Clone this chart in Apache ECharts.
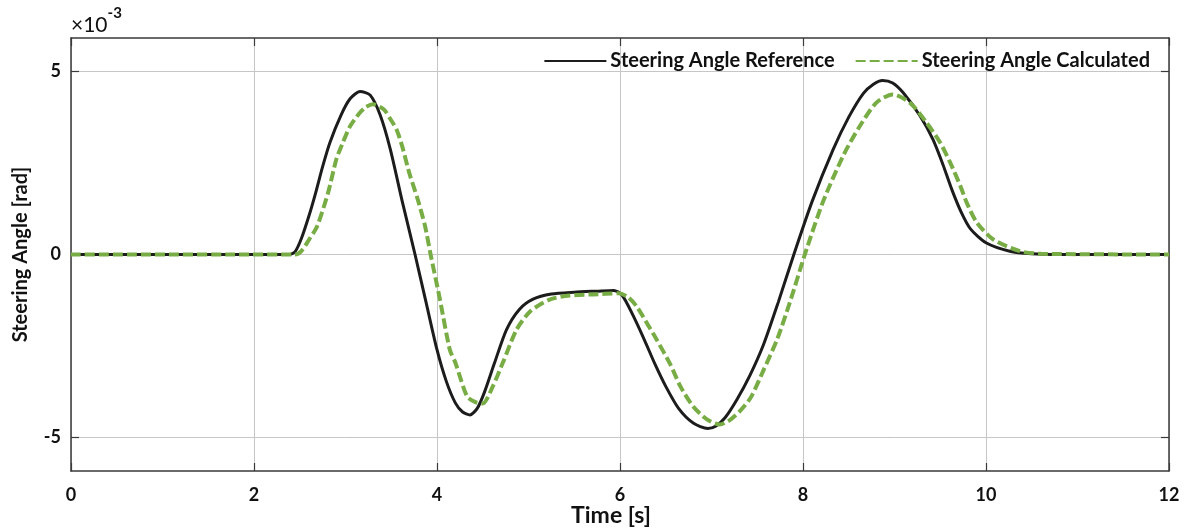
<!DOCTYPE html>
<html>
<head>
<meta charset="utf-8">
<script src="https://cdn.jsdelivr.net/npm/echarts@6/dist/echarts.min.js"></script>
<style>
  html, body { margin: 0; padding: 0; background: #fff; }
  #chart { width: 1189px; height: 529px; }
</style>
</head>
<body>
<div id="chart"></div>
<script>
// Steering angle in units of 1e-3 rad, sampled against time in seconds
const refTime = [0, 2.38, 2.45, 2.52, 2.6, 2.67, 2.75, 2.83, 2.95, 3.05, 3.16, 3.27, 3.38, 3.49, 3.62, 3.76, 3.88, 4.0, 4.1, 4.2, 4.28, 4.36, 4.44, 4.52, 4.63, 4.76, 4.9, 5.05, 5.25, 5.5, 5.75, 5.93, 6.02, 6.14, 6.27, 6.38, 6.5, 6.64, 6.8, 6.96, 7.05, 7.15, 7.28, 7.42, 7.57, 7.73, 7.9, 8.1, 8.33, 8.5, 8.66, 8.77, 8.87, 8.98, 9.1, 9.28, 9.42, 9.53, 9.63, 9.73, 9.83, 10.0, 10.26, 10.5, 10.8, 12];
const refAngle = [0, 0, 0.08, 0.45, 1.05, 1.65, 2.4, 3.06, 3.8, 4.25, 4.45, 4.35, 3.8, 2.87, 1.45, 0, -1.3, -2.6, -3.45, -4.05, -4.3, -4.38, -4.2, -3.75, -2.95, -2.05, -1.5, -1.22, -1.08, -1.03, -1.0, -0.98, -1.1, -1.65, -2.35, -2.98, -3.6, -4.2, -4.6, -4.75, -4.68, -4.45, -3.95, -3.3, -2.45, -1.3, 0, 1.45, 2.87, 3.75, 4.4, 4.65, 4.75, 4.68, 4.4, 3.78, 3.14, 2.45, 1.75, 1.15, 0.7, 0.32, 0.09, 0.02, 0, 0];

const calcTime = [0, 2.45, 2.52, 2.6, 2.69, 2.81, 2.9, 2.97, 3.05, 3.15, 3.22, 3.3, 3.42, 3.49, 3.56, 3.62, 3.7, 3.79, 3.87, 3.93, 4.03, 4.14, 4.2, 4.33, 4.42, 4.5, 4.61, 4.72, 4.87, 5.02, 5.23, 5.45, 5.7, 5.98, 6.08, 6.18, 6.3, 6.4, 6.55, 6.66, 6.8, 6.95, 7.09, 7.2, 7.32, 7.43, 7.57, 7.72, 7.87, 8.02, 8.22, 8.45, 8.62, 8.8, 8.98, 9.17, 9.35, 9.5, 9.61, 9.72, 9.79, 9.9, 10.08, 10.37, 10.6, 12];
const calcAngle = [0, 0, 0.1, 0.4, 0.77, 1.69, 2.6, 3.05, 3.5, 3.85, 4.02, 4.1, 3.96, 3.7, 3.4, 2.95, 2.2, 1.5, 0.77, 0, -1.2, -2.6, -2.95, -3.88, -4.03, -4.07, -3.6, -2.95, -2.05, -1.55, -1.23, -1.12, -1.09, -1.06, -1.15, -1.41, -1.9, -2.32, -3.0, -3.6, -4.15, -4.5, -4.64, -4.52, -4.25, -3.9, -3.15, -2.3, -1.2, 0, 1.45, 2.75, 3.5, 4.14, 4.37, 4.14, 3.6, 3.05, 2.5, 1.87, 1.41, 0.87, 0.41, 0.09, 0.02, 0];

const seriesNames = ['Steering Angle Reference', 'Steering Angle Calculated'];
const yTicks = [-5, 0, 5];

const pairs = (xs, ys) => xs.map((x, i) => [x, ys[i]]);

const FONT = 'Lato';
const AXIS_COLOR = '#3a3a3a';
const GRID_COLOR = '#c6c6c6';
const REF_COLOR = '#1c1c1c';
const CALC_COLOR = '#78ad45';
const boldText = { color: '#111', fontFamily: FONT, fontWeight: 'bold' };

const chart = echarts.init(document.getElementById('chart'), null, { renderer: 'canvas' });

// Axis used for the box frame: line plus inward ticks, no labels
const frameAxis = (extra) => Object.assign({
  type: 'value',
  axisLine: { show: true, onZero: false, lineStyle: { color: AXIS_COLOR, width: 1.5 } },
  axisTick: { show: true, inside: true, length: 8, lineStyle: { color: AXIS_COLOR, width: 1.2 } },
  axisLabel: { show: false },
  splitLine: { show: false }
}, extra);

chart.setOption({
  animation: false,
  backgroundColor: '#fff',
  grid: { left: 71, right: 20, top: 38, bottom: 58, containLabel: false, outerBoundsMode: 'none' },
  legend: {
    data: seriesNames,
    right: 34,
    top: 46,
    itemWidth: 62,
    itemHeight: 14,
    itemGap: 20,
    itemStyle: { opacity: 0, borderWidth: 0 },
    textStyle: Object.assign({ fontSize: 20, padding: [0, 0, 0, -1] }, boldText)
  },
  graphic: [
    {
      type: 'text',
      left: 71,
      top: 6,
      style: {
        text: '{b|×10}{s|-3}',
        rich: {
          b: { fontFamily: FONT, fontSize: 21, fill: '#111', verticalAlign: 'bottom', padding: [9, 0, 0, 0] },
          s: { fontFamily: FONT, fontSize: 15, fontWeight: 'bold', fill: '#111', verticalAlign: 'top' }
        }
      }
    },
    {
      type: 'text',
      x: 611,
      y: 516,
      style: {
        text: 'Time [s]',
        fontFamily: FONT,
        fontWeight: 'bold',
        fontSize: 23,
        fill: '#111',
        align: 'center',
        verticalAlign: 'middle'
      }
    }
  ],
  xAxis: [
    frameAxis({
      min: 0, max: 12, interval: 2, position: 'bottom',
      axisLabel: Object.assign({ show: true, fontSize: 18, margin: 15 }, boldText),
      splitLine: { show: true, lineStyle: { color: GRID_COLOR, width: 1 } }
    }),
    frameAxis({ min: 0, max: 12, interval: 2, position: 'top' })
  ],
  yAxis: [
    frameAxis({
      min: -5.91, max: 5.91, position: 'left',
      axisTick: { show: true, inside: true, length: 8, customValues: yTicks, lineStyle: { color: AXIS_COLOR, width: 1.2 } },
      axisLabel: Object.assign({ show: true, fontSize: 18, margin: 10, customValues: yTicks }, boldText),
      splitLine: { show: true, lineStyle: { color: GRID_COLOR, width: 1 } },
      name: 'Steering Angle [rad]',
      nameLocation: 'middle',
      nameGap: 40,
      nameTextStyle: Object.assign({ fontSize: 20 }, boldText)
    }),
    frameAxis({
      min: -5.91, max: 5.91, position: 'right',
      axisTick: { show: true, inside: true, length: 8, customValues: yTicks, lineStyle: { color: AXIS_COLOR, width: 1.2 } }
    })
  ],
  series: [
    {
      name: seriesNames[0],
      type: 'line',
      data: pairs(refTime, refAngle),
      showSymbol: false,
      symbol: 'none',
      smooth: 0.25,
      lineStyle: { color: REF_COLOR, width: 3 },
      itemStyle: { color: REF_COLOR },
      z: 3
    },
    {
      name: seriesNames[1],
      type: 'line',
      data: pairs(calcTime, calcAngle),
      showSymbol: false,
      symbol: 'none',
      smooth: 0.25,
      lineStyle: { color: CALC_COLOR, width: 4, type: [10, 4] },
      itemStyle: { color: CALC_COLOR },
      z: 4
    }
  ]
});
</script>
</body>
</html>
